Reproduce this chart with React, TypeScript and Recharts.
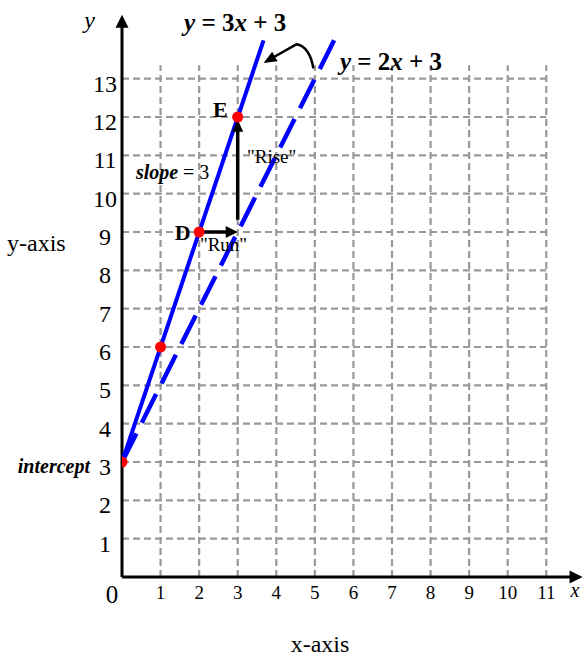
import React from "react";
import {
  ComposedChart,
  Line,
  Scatter,
  XAxis,
  YAxis,
  ReferenceLine,
  ReferenceDot
} from "recharts";

const FONT = '"Liberation Serif", "Times New Roman", serif';

// values
const xTicks = [0, 1, 2, 3, 4, 5, 6, 7, 8, 9, 10, 11];
const yTicks = [1, 2, 3, 4, 5, 6, 7, 8, 9, 10, 11, 12, 13];
const solidLine = [
  { x: 0, y: 3 },
  { x: 3.67, y: 14 }
];
const dashedLine = [
  { x: 0, y: 3 },
  { x: 5.5, y: 14 }
];
const points = [
  { x: 0, y: 3 },
  { x: 1, y: 6 },
  { x: 2, y: 9 },
  { x: 3, y: 12 }
];
const gridTop = 13.35;
const gridRight = 11;
const xAxisEnd = 11.94;
const yAxisEnd = 14.67;

// straight arrow drawn between the two ends of a reference segment
const arrow = (len: number, half: number, width: number) => (p: any) => {
  const { x1, y1, x2, y2 } = p;
  const dx = x2 - x1;
  const dy = y2 - y1;
  const d = Math.hypot(dx, dy) || 1;
  const ux = dx / d;
  const uy = dy / d;
  const bx = x2 - ux * len;
  const by = y2 - uy * len;
  return (
    <g>
      <line x1={x1} y1={y1} x2={bx + ux} y2={by + uy} stroke="#000" strokeWidth={width} />
      <polygon
        points={`${x2},${y2} ${bx - uy * half},${by + ux * half} ${bx + uy * half},${by - ux * half}`}
        fill="#000"
      />
    </g>
  );
};

// the hooked arrow from the dashed line to the solid one
const curvedArrow = (p: any) => {
  const { x1, y1, x2, y2 } = p;
  const mx = x1 - 17;
  const my = y1 - 24;
  const dx = x2 - mx;
  const dy = y2 - my;
  const d = Math.hypot(dx, dy) || 1;
  const ux = dx / d;
  const uy = dy / d;
  const len = 13;
  const half = 5.5;
  const bx = x2 - ux * len;
  const by = y2 - uy * len;
  return (
    <g>
      <path
        d={`M ${x1} ${y1} C ${x1 - 2} ${y1 - 13} ${x1 - 8} ${y1 - 23} ${mx} ${my} L ${bx + ux} ${by + uy}`}
        fill="none"
        stroke="#000"
        strokeWidth={2.5}
      />
      <polygon
        points={`${x2},${y2} ${bx - uy * half},${by + ux * half} ${bx + uy * half},${by - ux * half}`}
        fill="#000"
      />
    </g>
  );
};

const note =
  (content: React.ReactNode, size: number, anchor = "start", weight = "normal", style = "normal") =>
  (p: any) =>
    (
      <text
        x={p.cx}
        y={p.cy}
        fontFamily={FONT}
        fontSize={size}
        fontWeight={weight}
        fontStyle={style}
        textAnchor={anchor}
        fill="#000"
        style={{ whiteSpace: "pre" }}
      >
        {content}
      </text>
    );

const XTick = ({ x, y, payload }: any) =>
  payload.value === 0 ? (
    <text x={x - 10} y={y + 18} fontFamily={FONT} fontSize={25} textAnchor="middle" fill="#000">
      0
    </text>
  ) : (
    <text x={x} y={y + 14} fontFamily={FONT} fontSize={19} textAnchor="middle" fill="#000">
      {payload.value}
    </text>
  );

const YTick = ({ x, y, payload }: any) => (
  <text x={x - 9} y={y + 13} fontFamily={FONT} fontSize={24} textAnchor="middle" fill="#000">
    {payload.value}
  </text>
);

export default function App() {
  return (
    <div style={{ position: "absolute", left: 0, top: 0, width: 584, height: 658, background: "#fff" }}>
      <ComposedChart width={584} height={658} margin={{ top: 2, right: 3, bottom: 21, left: 0 }}>
        <XAxis
          dataKey="x"
          type="number"
          domain={[0, 11.9]}
          ticks={xTicks}
          interval={0}
          allowDataOverflow
          axisLine={false}
          tickLine={false}
          height={60}
          tick={XTick}
          label={(p: any) => (
            <text
              x={p.viewBox.x + 198}
              y={p.viewBox.y + 75}
              fontFamily={FONT}
              fontSize={24}
              textAnchor="middle"
              fill="#000"
            >
              x-axis
            </text>
          )}
        />
        <YAxis
          dataKey="y"
          type="number"
          domain={[0, 15]}
          ticks={yTicks}
          interval={0}
          allowDataOverflow
          axisLine={false}
          tickLine={false}
          width={122}
          tick={YTick}
          label={() => (
            <text x={7} y={251} fontFamily={FONT} fontSize={24} fill="#000">
              y-axis
            </text>
          )}
        />

        {yTicks.map((v) => (
          <ReferenceLine
            key={"h" + v}
            segment={[
              { x: 0, y: v },
              { x: gridRight, y: v }
            ]}
            stroke="#999"
            strokeWidth={2.2}
            strokeDasharray="7 4"
            ifOverflow="visible"
          />
        ))}
        {xTicks
          .filter((v) => v > 0)
          .map((v) => (
            <ReferenceLine
              key={"v" + v}
              segment={[
                { x: v, y: 0 },
                { x: v, y: gridTop }
              ]}
              stroke="#999"
              strokeWidth={2.2}
              strokeDasharray="7 4"
              ifOverflow="visible"
            />
          ))}

        <ReferenceLine
          segment={[
            { x: 0, y: 0 },
            { x: xAxisEnd, y: 0 }
          ]}
          ifOverflow="visible"
          shape={arrow(13, 6.5, 3)}
        />
        <ReferenceLine
          segment={[
            { x: 0, y: 0 },
            { x: 0, y: yAxisEnd }
          ]}
          ifOverflow="visible"
          shape={arrow(13, 6.5, 3)}
        />

        <Line
          data={dashedLine}
          dataKey="y"
          type="linear"
          stroke="#0000ff"
          strokeWidth={4.5}
          strokeDasharray="32 12"
          dot={false}
          activeDot={false}
          isAnimationActive={false}
        />
        <Line
          data={solidLine}
          dataKey="y"
          type="linear"
          stroke="#0000ff"
          strokeWidth={4}
          dot={false}
          activeDot={false}
          isAnimationActive={false}
        />

        {/* rise / run */}
        <ReferenceLine
          segment={[
            { x: 3, y: 9.32 },
            { x: 3, y: 11.93 }
          ]}
          ifOverflow="visible"
          shape={arrow(12, 5.5, 3.5)}
        />
        <ReferenceLine
          segment={[
            { x: 2, y: 9 },
            { x: 3, y: 9 }
          ]}
          ifOverflow="visible"
          shape={arrow(12, 6, 3.5)}
        />
        <ReferenceLine
          segment={[
            { x: 4.96, y: 13.27 },
            { x: 3.67, y: 13.41 }
          ]}
          ifOverflow="visible"
          shape={curvedArrow}
        />

        <Scatter
          data={points}
          dataKey="y"
          isAnimationActive={false}
          shape={(p: any) => <circle cx={p.cx} cy={p.cy} r={5.5} fill="#ff0000" />}
        />

        <ReferenceDot
          x={1.61}
          y={14.24}
          ifOverflow="visible"
          shape={note(
            <>
              <tspan fontStyle="italic">y</tspan> = 3<tspan fontStyle="italic">x</tspan> + 3
            </>,
            25,
            "start",
            "bold"
          )}
        />
        <ReferenceDot
          x={5.65}
          y={13.23}
          ifOverflow="visible"
          shape={note(
            <>
              <tspan fontStyle="italic">y</tspan> = 2<tspan fontStyle="italic">x</tspan> + 3
            </>,
            25,
            "start",
            "bold"
          )}
        />
        <ReferenceDot x={2.36} y={12.0} ifOverflow="visible" shape={note("E", 22, "start", "bold")} />
        <ReferenceDot x={1.37} y={8.79} ifOverflow="visible" shape={note("D", 22, "start", "bold")} />
        <ReferenceDot
          x={0.36}
          y={10.38}
          ifOverflow="visible"
          shape={note(
            <>
              <tspan fontWeight="bold" fontStyle="italic">slope</tspan> = 3
            </>,
            20
          )}
        />
        <ReferenceDot x={3.24} y={10.8} ifOverflow="visible" shape={note('"Rise"', 19)} />
        <ReferenceDot x={2.02} y={8.5} ifOverflow="visible" shape={note('"Run"', 19)} />
        <ReferenceDot
          x={-0.83}
          y={2.71}
          ifOverflow="visible"
          shape={note("intercept", 20, "end", "bold", "italic")}
        />
        <ReferenceDot x={-0.98} y={14.32} ifOverflow="visible" shape={note("y", 24, "start", "normal", "italic")} />
        <ReferenceDot x={11.63} y={-0.52} ifOverflow="visible" shape={note("x", 20, "start", "normal", "italic")} />
      </ComposedChart>
    </div>
  );
}
